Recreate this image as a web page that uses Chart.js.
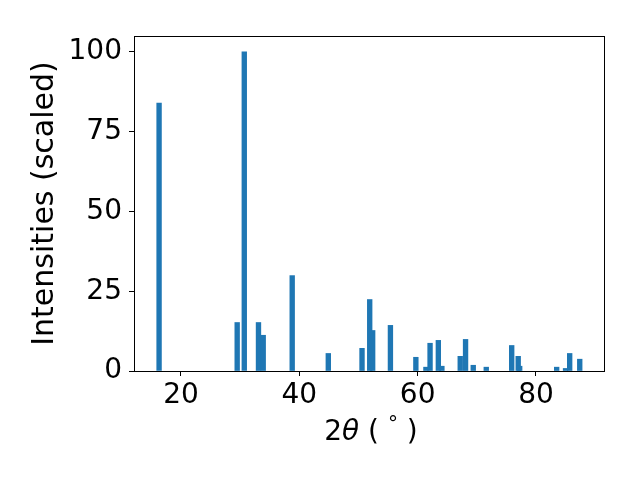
<!DOCTYPE html>
<html>
<head>
<meta charset="utf-8">
<script src="https://cdn.jsdelivr.net/npm/chart.js@4/dist/chart.umd.min.js"></script>
<style>
	html, body { margin: 0; padding: 0; background: #fff; }
	#wrap { width: 640px; height: 480px; }
</style>
</head>
<body>
<div id="wrap"><canvas id="chart"></canvas></div>
<script>
// peak positions (2 theta, degrees) and scaled intensities
const angles = [16.3, 29.5, 30.7, 33.1, 33.9, 38.8, 44.9, 50.6, 51.9, 52.4, 55.4, 59.7, 61.4, 62.1, 63.5, 64.1, 67.2, 68.1, 69.4, 71.6, 75.9, 77.0, 77.25, 83.5, 85.0, 85.7, 87.4];
const intensities = [84, 15.2, 100, 15.2, 11.2, 29.9, 5.5, 7.1, 22.4, 12.7, 14.3, 4.3, 1.2, 8.7, 9.6, 1.5, 4.6, 9.9, 1.8, 1.2, 8.0, 4.6, 1.5, 1.2, 0.8, 5.5, 3.7];
const xTicks = [20, 40, 60, 80];
const yTicks = [0, 25, 50, 75, 100];

const family = "'DejaVu Sans', sans-serif";
const font = { family: family, size: 28 };

// box around the plot, like the matplotlib spines
const frame = {
	id: 'frame',
	afterDatasetsDraw(chart) {
		const a = chart.chartArea;
		const ctx = chart.ctx;
		ctx.save();
		ctx.strokeStyle = '#000';
		ctx.lineWidth = 1;
		ctx.strokeRect(Math.round(a.left) + 0.5, Math.round(a.top) + 0.5, Math.round(a.right - a.left), Math.round(a.bottom - a.top));
		ctx.restore();
	}
};

// x label with italic theta and raised degree sign
const xLabel = {
	id: 'xLabel',
	afterDraw(chart) {
		const ctx = chart.ctx;
		const a = chart.chartArea;
		const parts = [
			{ t: '2', f: '28px ' + family, dy: 0 },
			{ t: 'θ', f: 'italic 28px ' + family, dy: 0 },
			{ t: ' ( ', f: '28px ' + family, dy: 0 },
			{ t: '°', f: '20px ' + family, dy: -10 },
			{ t: ' )', f: '28px ' + family, dy: 0 }
		];
		ctx.save();
		ctx.fillStyle = '#000';
		ctx.textBaseline = 'alphabetic';
		ctx.textAlign = 'left';
		let total = 0;
		parts.forEach(p => { ctx.font = p.f; p.w = ctx.measureText(p.t).width; total += p.w; });
		let x = (a.left + a.right) / 2 - total / 2 + 2;
		const base = 440;
		parts.forEach(p => { ctx.font = p.f; ctx.fillText(p.t, x, base + p.dy); x += p.w; });
		ctx.restore();
	}
};

const points = angles.map((x, i) => ({ x: x, y: intensities[i] }));

new Chart(document.getElementById('chart'), {
	type: 'bar',
	data: {
		datasets: [{
			data: points,
			backgroundColor: '#1f77b4',
			borderWidth: 0,
			barThickness: 4.7
		}]
	},
	options: {
		responsive: true,
		maintainAspectRatio: false,
		animation: false,
		layout: { padding: { left: 0, right: 36, top: 36, bottom: 0 } },
		plugins: { legend: { display: false }, tooltip: { enabled: false } },
		scales: {
			x: {
				type: 'linear',
				min: 12.06,
				max: 91.5,
				offset: false,
				afterBuildTicks(scale) { scale.ticks = xTicks.map(v => ({ value: v })); },
				afterFit(scale) { scale.height = 109; },
				grid: { display: true, offset: false, drawOnChartArea: false, drawTicks: true, tickLength: 5, color: '#000' },
				border: { display: true, color: '#000' },
				ticks: { color: '#000', font: font, padding: 3, maxRotation: 0 },
				title: { display: false }
			},
			y: {
				min: 0,
				max: 105,
				afterBuildTicks(scale) { scale.ticks = yTicks.map(v => ({ value: v })); },
				afterFit(scale) { scale.width = 134; },
				grid: { display: true, offset: false, drawOnChartArea: false, drawTicks: true, tickLength: 5, color: '#000' },
				border: { display: true, color: '#000' },
				ticks: { color: '#000', font: font, padding: 7 },
				title: { display: true, text: 'Intensities (scaled)', color: '#000', font: { family: family, size: 30 }, padding: { top: 27, bottom: 0 } }
			}
		}
	},
	plugins: [frame, xLabel]
});
</script>
</body>
</html>
